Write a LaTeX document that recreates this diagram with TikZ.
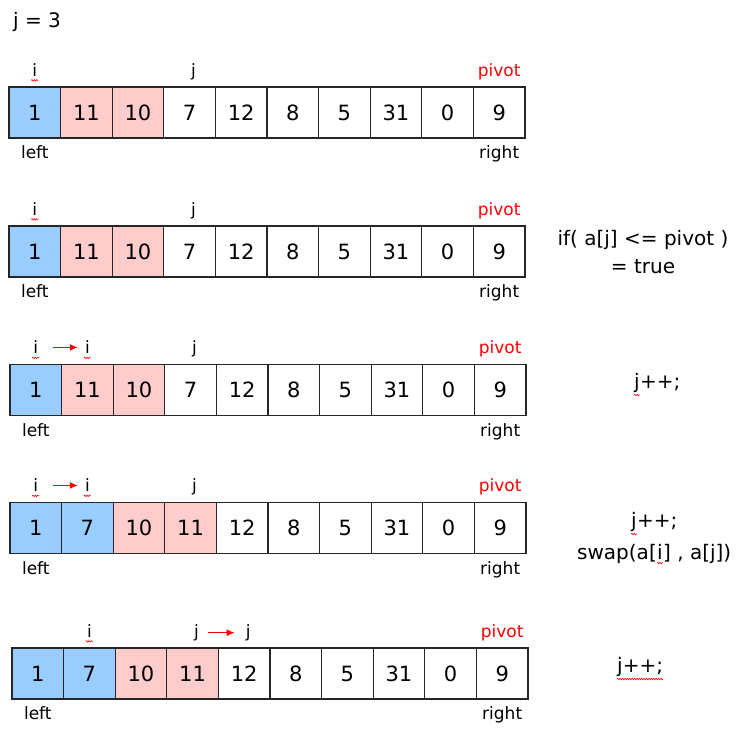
\documentclass[tikz,border=0pt]{standalone}
\usepackage{fontspec}
\setmainfont{DejaVu Sans}
\usetikzlibrary{arrows.meta,decorations.pathmorphing}
\definecolor{leftblue}{HTML}{99CCFF}
\definecolor{swappink}{HTML}{FFCCCC}
\definecolor{pivotred}{HTML}{FF0000}

\begin{document}
\begin{tikzpicture}[x=1pt,y=-1pt,
  cell/.style={draw=black!85,line width=1.2pt,minimum width=51.6pt,minimum height=51pt,inner sep=0pt,font=\fontsize{21}{25}\selectfont},
  lbl/.style={anchor=base,inner sep=1pt,font=\fontsize{17}{20}\selectfont},
  code/.style={anchor=base,inner sep=0pt,font=\fontsize{20}{24}\selectfont},
  codepart/.style={code,anchor=base west},
  spellmark/.style={pivotred,line width=0.6pt,decorate,decoration={snake,amplitude=0.8pt,segment length=2.4pt}},
  moveto/.style={-{Latex[length=8pt,width=7pt]},pivotred,line width=1.1pt}]
\useasboundingbox (0,0) rectangle (737,729);

\node[codepart] (jval) at (13,27) {j = 3};

% row 1
\foreach \v/\c [count=\k] in {1/leftblue,11/swappink,10/swappink,7/white,12/white,8/white,5/white,31/white,0/white,9/white}
  \node[cell,fill=\c] (r1c\k) at (9+\k*51.6-25.8,112.5) {\v};
\node[lbl] (r1i) at ([yshift=10pt]r1c1.north) {i};
\node[lbl] (r1j) at ([xshift=4pt,yshift=10pt]r1c4.north) {j};
\node[lbl,text=pivotred] (r1p) at ([yshift=10pt]r1c10.north) {pivot};
\node[lbl] (r1l) at ([yshift=-20pt]r1c1.south) {left};
\node[lbl] (r1r) at ([yshift=-20pt]r1c10.south) {right};
\draw[spellmark] ([yshift=-4pt]r1i.base west) -- ([yshift=-4pt]r1i.base east);

% row 2
\foreach \v/\c [count=\k] in {1/leftblue,11/swappink,10/swappink,7/white,12/white,8/white,5/white,31/white,0/white,9/white}
  \node[cell,fill=\c] (r2c\k) at (9+\k*51.6-25.8,251.5) {\v};
\node[lbl] (r2i) at ([yshift=10pt]r2c1.north) {i};
\node[lbl] (r2j) at ([xshift=4pt,yshift=10pt]r2c4.north) {j};
\node[lbl,text=pivotred] (r2p) at ([yshift=10pt]r2c10.north) {pivot};
\node[lbl] (r2l) at ([yshift=-20pt]r2c1.south) {left};
\node[lbl] (r2r) at ([yshift=-20pt]r2c10.south) {right};
\draw[spellmark] ([yshift=-4pt]r2i.base west) -- ([yshift=-4pt]r2i.base east);
\node[code] (cond) at (643,245) {if( a[j] <= pivot )};
\node[code] (condval) at (643,273) {= true};

% row 3
\foreach \v/\c [count=\k] in {1/leftblue,11/swappink,10/swappink,7/white,12/white,8/white,5/white,31/white,0/white,9/white}
  \node[cell,fill=\c] (r3c\k) at (10+\k*51.6-25.8,390) {\v};
\node[lbl] (r3i) at ([yshift=10pt]r3c1.north) {i};
\node[lbl] (r3inext) at ([yshift=10pt]r3c2.north) {i};
\node[lbl] (r3j) at ([xshift=4pt,yshift=10pt]r3c4.north) {j};
\node[lbl,text=pivotred] (r3p) at ([yshift=10pt]r3c10.north) {pivot};
\node[lbl] (r3l) at ([yshift=-20pt]r3c1.south) {left};
\node[lbl] (r3r) at ([yshift=-20pt]r3c10.south) {right};
\draw[moveto,shorten <=14pt,shorten >=6pt] (r3i) -- (r3inext);
\draw[spellmark] ([yshift=-4pt]r3i.base west) -- ([yshift=-4pt]r3i.base east);
\draw[spellmark] ([yshift=-4pt]r3inext.base west) -- ([yshift=-4pt]r3inext.base east);
\node[codepart] (r3stepj) at (634,388) {j};
\node[codepart] (r3step) at (r3stepj.base east) {++;};
\draw[spellmark] ([yshift=-7pt]r3stepj.base west) -- ([yshift=-7pt]r3stepj.base east);

% row 4
\foreach \v/\c [count=\k] in {1/leftblue,7/leftblue,10/swappink,11/swappink,12/white,8/white,5/white,31/white,0/white,9/white}
  \node[cell,fill=\c] (r4c\k) at (10+\k*51.6-25.8,528) {\v};
\node[lbl] (r4i) at ([yshift=10pt]r4c1.north) {i};
\node[lbl] (r4inext) at ([yshift=10pt]r4c2.north) {i};
\node[lbl] (r4j) at ([xshift=4pt,yshift=10pt]r4c4.north) {j};
\node[lbl,text=pivotred] (r4p) at ([yshift=10pt]r4c10.north) {pivot};
\node[lbl] (r4l) at ([yshift=-20pt]r4c1.south) {left};
\node[lbl] (r4r) at ([yshift=-20pt]r4c10.south) {right};
\draw[moveto,shorten <=14pt,shorten >=6pt] (r4i) -- (r4inext);
\draw[spellmark] ([yshift=-4pt]r4i.base west) -- ([yshift=-4pt]r4i.base east);
\draw[spellmark] ([yshift=-4pt]r4inext.base west) -- ([yshift=-4pt]r4inext.base east);
\node[codepart] (r4stepj) at (631,527) {j};
\node[codepart] (r4step) at (r4stepj.base east) {++;};
\draw[spellmark] ([yshift=-7pt]r4stepj.base west) -- ([yshift=-7pt]r4stepj.base east);
\node[codepart] (r4swap) at (577,559) {swap(a[};
\node[codepart] (r4swapi) at (r4swap.base east) {i};
\node[codepart] (r4swapend) at (r4swapi.base east) {] , a[j])};
\draw[spellmark] ([yshift=-4pt]r4swapi.base west) -- ([yshift=-4pt]r4swapi.base east);

% row 5
\foreach \v/\c [count=\k] in {1/leftblue,7/leftblue,10/swappink,11/swappink,12/white,8/white,5/white,31/white,0/white,9/white}
  \node[cell,fill=\c] (r5c\k) at (12+\k*51.6-25.8,673.5) {\v};
\node[lbl] (r5i) at ([yshift=10pt]r5c2.north) {i};
\node[lbl] (r5j) at ([xshift=4pt,yshift=10pt]r5c4.north) {j};
\node[lbl] (r5jnext) at ([xshift=4pt,yshift=10pt]r5c5.north) {j};
\node[lbl,text=pivotred] (r5p) at ([yshift=10pt]r5c10.north) {pivot};
\node[lbl] (r5l) at ([yshift=-20pt]r5c1.south) {left};
\node[lbl] (r5r) at ([yshift=-20pt]r5c10.south) {right};
\draw[moveto,shorten <=8pt,shorten >=10pt] (r5j) -- (r5jnext);
\draw[spellmark] ([yshift=-4pt]r5i.base west) -- ([yshift=-4pt]r5i.base east);
\node[codepart] (r5step) at (617,672) {j++;};
\draw[spellmark] ([yshift=-7pt]r5step.base west) -- ([yshift=-7pt]r5step.base east);
\end{tikzpicture}
\end{document}
